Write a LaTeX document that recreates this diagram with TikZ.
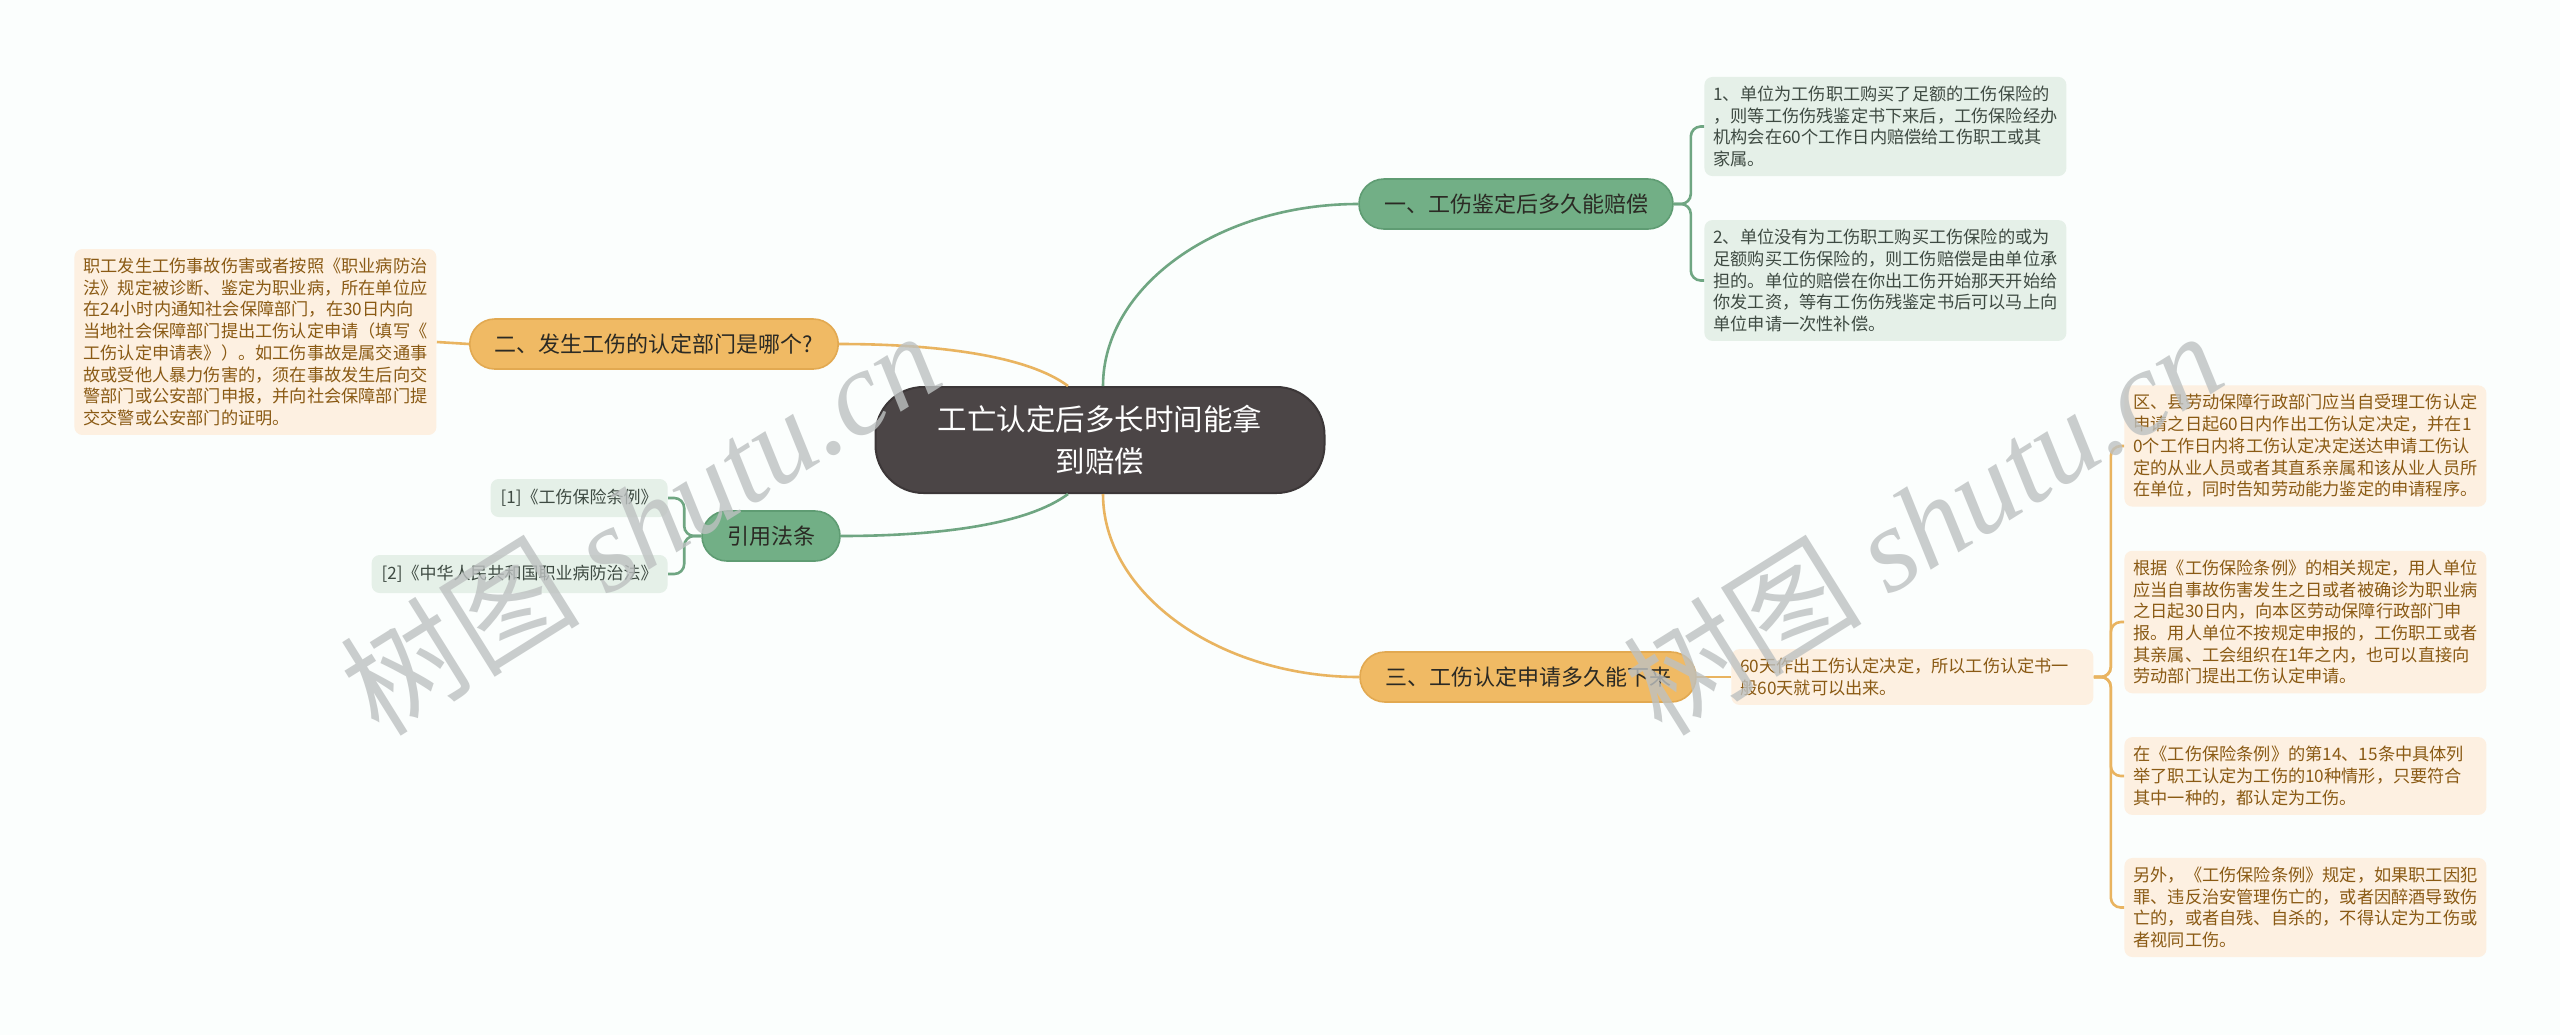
\documentclass[tikz,border=0pt]{standalone}
\usepackage{fontspec}
\setmainfont{Noto Sans CJK SC}
\newfontfamily\wmfont{Liberation Serif}
\usetikzlibrary{calc}
\definecolor{paper}{HTML}{FBFEFD}
\definecolor{rootfill}{HTML}{4B4546}
\definecolor{greenfill}{HTML}{72AF86}
\definecolor{greenedge}{HTML}{5F9C73}
\definecolor{greenline}{HTML}{6FA682}
\definecolor{greenpale}{HTML}{E5F0E8}
\definecolor{greentext}{HTML}{3E4A42}
\definecolor{orangefill}{HTML}{F0BA64}
\definecolor{orangeedge}{HTML}{E2A951}
\definecolor{orangeline}{HTML}{E9B460}
\definecolor{orangepale}{HTML}{FDF0E1}
\definecolor{orangetext}{HTML}{8A5A14}
\definecolor{topictext}{HTML}{2B2A24}
\definecolor{wmgray}{HTML}{BDC1C1}
\tikzset{
  every picture/.style={
    x=0.5pt, y=-0.5pt
  },
  main topic/.style={
    fill=rootfill, draw=rootfill!80!black, line width=1pt, text=white,
    rounded corners=24pt, align=center,
    minimum width=224.5pt, minimum height=53pt,
    font=\fontsize{14.75}{21}\selectfont
  },
  topic/.style={
    rounded corners=12.5pt, minimum height=25pt, inner xsep=12.5pt,
    text=topictext, line width=0.8pt,
    font=\fontsize{11}{13}\selectfont
  },
  green topic/.style={topic, fill=greenfill, draw=greenedge},
  orange topic/.style={topic, fill=orangefill, draw=orangeedge},
  leaf/.style={
    rounded corners=4pt, align=left, text width=172pt,
    inner xsep=4.5pt, inner ysep=4.5pt,
    font=\fontsize{8.6}{10.85}\selectfont
  },
  green leaf/.style={leaf, fill=greenpale, text=greentext},
  orange leaf/.style={leaf, fill=orangepale, text=orangetext},
  ref leaf/.style={
    rounded corners=4pt, fill=greenpale, text=greentext,
    minimum height=19pt, inner xsep=5pt, anchor=east,
    font=\fontsize{8.5}{10}\selectfont
  },
  green link/.style={draw=greenline, line width=1.3pt},
  orange link/.style={draw=orangeline, line width=1.3pt},
  watermark/.style={
    text=wmgray, text opacity=0.8, rotate=32,
    font=\fontsize{60}{64}\selectfont
  }
}
\begin{document}
\begin{tikzpicture}
  \fill[paper] (0,0) rectangle (2560,1035);
  \useasboundingbox (0,0) rectangle (2560,1035);

  % centre and topics
  \node[main topic] (root) at (1100,440) {工亡认定后多长时间能拿\\到赔偿};
  \node[green topic] (t1) at (1516,204) {一、工伤鉴定后多久能赔偿};
  \node[orange topic] (t2) at (654,344) {二、发生工伤的认定部门是哪个?};
  \node[orange topic] (t3) at (1528,677) {三、工伤认定申请多久能下来};
  \node[green topic] (t4) at (771,536) {引用法条};

  % leaves of the first topic
  \node[green leaf, anchor=west] (l1a) at (1704,126.5) {1、单位为工伤职工购买了足额的工伤保险的\\，则等工伤伤残鉴定书下来后，工伤保险经办\\机构会在60个工作日内赔偿给工伤职工或其\\家属。};
  \node[green leaf, anchor=west] (l1b) at (1704,280.5) {2、单位没有为工伤职工购买工伤保险的或为\\足额购买工伤保险的，则工伤赔偿是由单位承\\担的。单位的赔偿在你出工伤开始那天开始给\\你发工资，等有工伤伤残鉴定书后可以马上向\\单位申请一次性补偿。};

  % leaf of the second topic
  \node[orange leaf, anchor=west] (l2) at (74,342) {职工发生工伤事故伤害或者按照《职业病防治\\法》规定被诊断、鉴定为职业病，所在单位应\\在24小时内通知社会保障部门，在30日内向\\当地社会保障部门提出工伤认定申请（填写《\\工伤认定申请表》）。如工伤事故是属交通事\\故或受他人暴力伤害的，须在事故发生后向交\\警部门或公安部门申报，并向社会保障部门提\\交交警或公安部门的证明。};

  % leaves of the third topic
  \node[orange leaf, anchor=west] (l3) at (1731,677) {60天作出工伤认定决定，所以工伤认定书一\\般60天就可以出来。};
  \node[orange leaf, anchor=west] (l3a) at (2124,446) {区、县劳动保障行政部门应当自受理工伤认定\\申请之日起60日内作出工伤认定决定，并在1\\0个工作日内将工伤认定决定送达申请工伤认\\定的从业人员或者其直系亲属和该从业人员所\\在单位，同时告知劳动能力鉴定的申请程序。};
  \node[orange leaf, anchor=west] (l3b) at (2124,622) {根据《工伤保险条例》的相关规定，用人单位\\应当自事故伤害发生之日或者被确诊为职业病\\之日起30日内，向本区劳动保障行政部门申\\报。用人单位不按规定申报的，工伤职工或者\\其亲属、工会组织在1年之内，也可以直接向\\劳动部门提出工伤认定申请。};
  \node[orange leaf, anchor=west] (l3c) at (2124,776) {在《工伤保险条例》的第14、15条中具体列\\举了职工认定为工伤的10种情形，只要符合\\其中一种的，都认定为工伤。};
  \node[orange leaf, anchor=west] (l3d) at (2124,907.5) {另外，《工伤保险条例》规定，如果职工因犯\\罪、违反治安管理伤亡的，或者因醉酒导致伤\\亡的，或者自残、自杀的，不得认定为工伤或\\者视同工伤。};

  % cited laws
  \node[ref leaf] (r1) at (668,498) {[1]《工伤保险条例》};
  \node[ref leaf] (r2) at (668,574) {[2]《中华人民共和国职业病防治法》};

  % centre to topics
  \draw[green link] ($(root.north)+(3,0)$) .. controls +(0,-100) and ($(t1.west)+(-140,0)$) .. (t1.west);
  \draw[orange link] ($(root.north)+(-32,0)$) .. controls +(-40,-30) and ($(t2.east)+(100,0)$) .. (t2.east);
  \draw[green link] ($(root.south)+(-32,0)$) .. controls +(-40,30) and ($(t4.east)+(100,0)$) .. (t4.east);
  \draw[orange link] ($(root.south)+(3,0)$) .. controls +(0,100) and ($(t3.west)+(-140,0)$) .. (t3.west);

  % topics to leaves
  \draw[green link, rounded corners=5pt] (t1.east) -- ++(17,0) |- (l1a.west);
  \draw[green link, rounded corners=5pt] (t1.east) -- ++(17,0) |- (l1b.west);
  \draw[orange link] (t2.west) -- (l2.east);
  \draw[orange link] (t3.east) -- (l3.west);
  \foreach \leaf in {l3a,l3b,l3c,l3d}
    \draw[orange link, rounded corners=5pt] (l3.east) -- ++(17,0) |- (\leaf.west);
  \draw[green link, rounded corners=5pt] (t4.west) -- ++(-17,0) |- (r1.east);
  \draw[green link, rounded corners=5pt] (t4.west) -- ++(-17,0) |- (r2.east);

  % watermark
  \node[watermark] (wm1) at (640,522) {树图 {\wmfont\itshape shutu.cn}};
  \node[watermark] (wm2) at (1922,522) {树图 {\wmfont\itshape shutu.cn}};
\end{tikzpicture}
\end{document}
